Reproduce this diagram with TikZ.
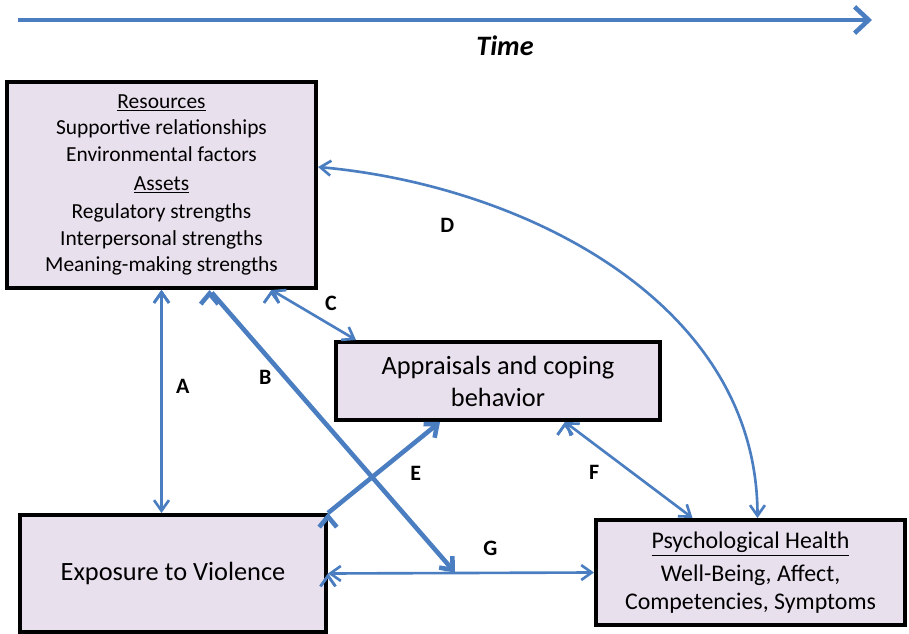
\documentclass[tikz,border=0pt]{standalone}
\usepackage{fontspec}
\setmainfont{Carlito}
\usetikzlibrary{arrows.meta,calc}
\definecolor{boxfill}{RGB}{233,224,238}
\definecolor{linkblue}{RGB}{74,126,193}
\begin{document}
\begin{tikzpicture}[x=0.02cm,y=-0.02cm,
    box/.style={rectangle,draw=black,line width=2.3pt,fill=boxfill,align=center,font=\fontsize{15}{18.2}\selectfont},
    link/.style={draw=linkblue,line width=1.5pt,{Straight Barb[length=6pt,width=8.5pt]}-{Straight Barb[length=6pt,width=8.5pt]}},
    push/.style={draw=linkblue,line width=2.6pt,-{Straight Barb[length=6pt,width=10pt]}},
    tag/.style={font=\bfseries\fontsize{12.5}{14}\selectfont,text=black}]

  \useasboundingbox (0,0) rectangle (909,634);

  % time axis
  \coordinate (t0) at (18,20);
  \coordinate (t1) at (872,20);
  \draw[draw=linkblue,line width=2.6pt,-{Straight Barb[length=8pt,width=15pt]}] (t0) -- (t1);
  \node[font=\bfseries\itshape\fontsize{16}{18}\selectfont] (time) at (505,46) {Time};

  \begin{scope}[every node/.style={box}]
    \node[minimum width=6.18cm,minimum height=4.12cm,font=\fontsize{12.2}{15.2}\selectfont] (res) at (161.5,185)
      {\underline{Resources}\\Supportive relationships\\Environmental factors\\[1pt]\underline{Assets}\\[1pt]Regulatory strengths\\Interpersonal strengths\\Meaning-making strengths};
    \node[minimum width=6.48cm,minimum height=1.56cm] (app) at (498,381) {Appraisals and coping\\behavior};
    \node[minimum width=6.12cm,minimum height=2.34cm] (exp) at (173,573.5) {Exposure to Violence};
    \node[minimum width=6.18cm,minimum height=2.1cm,font=\fontsize{13.6}{15.8}\selectfont] (psy) at (750.5,572.5)
      {\underline{Psychological Health}\\[3pt]Well-Being, Affect,\\Competencies, Symptoms};
  \end{scope}

  \coordinate (mid) at (455,572.5);

  \begin{scope}[every node/.style={tag}]
    \path[link] (res.south) edge node[pos=.43,right=0.15cm] {A} (exp.north -| res.south);
    \path[push,shorten <=2pt] ($(res.south)+(48,0)$) edge node[pos=.31,left=0.12cm] {B} (mid);
    \path[link] ($(res.south)+(110,0)$) edge node[pos=.55,above right=0cm] {C} ($(app.north west)+(22,0)$);
    \path[link] ($(res.east)+(0,-18)$) .. controls (520,185) and (757,300) .. node[pos=.21,below=0.4cm] {D} ($(psy.north)+(7,0)$);
    \path[push] (exp.north east) edge node[pos=.44,right=0.5cm] {E} ($(app.south)+(-58,0)$);
    \path[link] ($(app.south)+(67,0)$) edge node[pos=.52,left=0.5cm] {F} ($(psy.north)+(-58,0)$);
    \path[link] (exp.east) edge node[pos=.61,above=0.2cm] {G} (psy.west);
  \end{scope}

\end{tikzpicture}
\end{document}
